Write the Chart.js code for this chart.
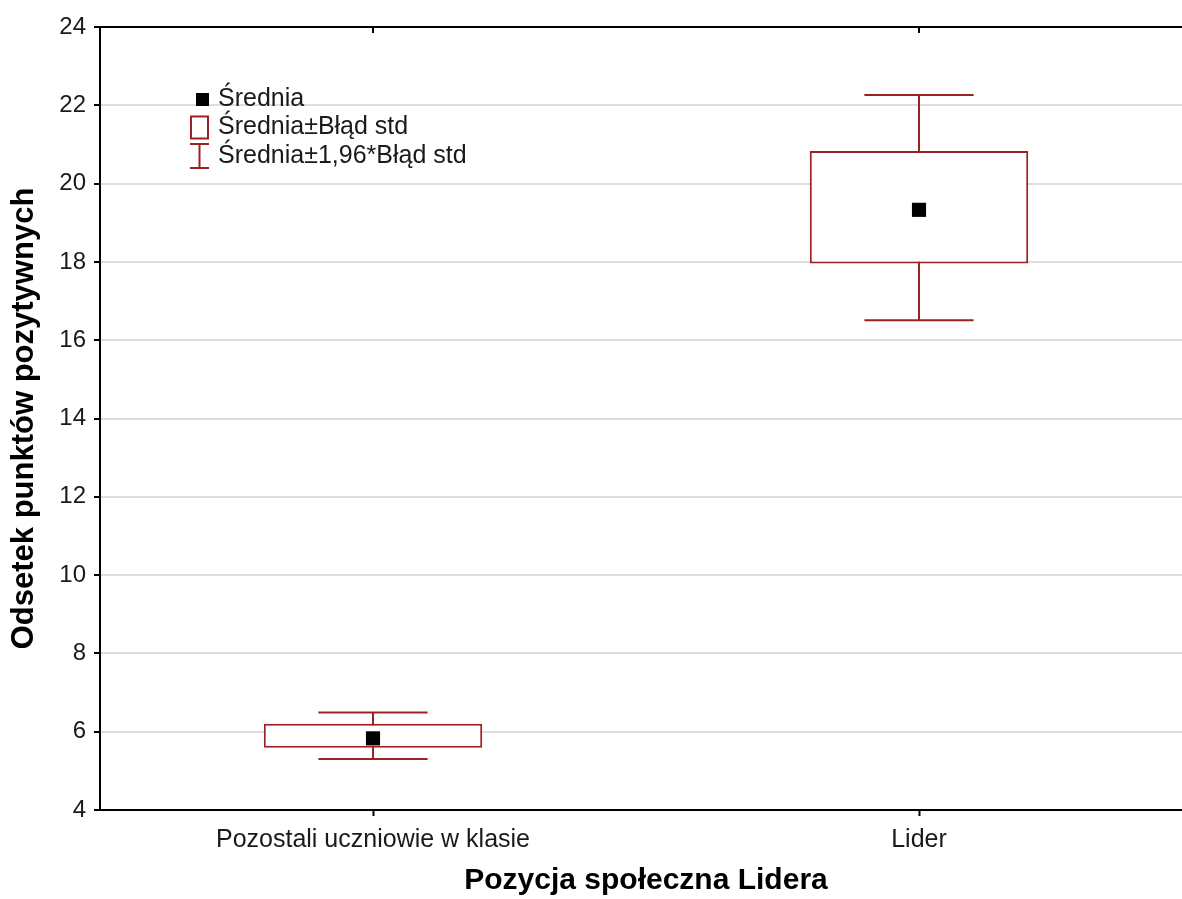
<!DOCTYPE html>
<html>
<head>
<meta charset="utf-8">
<script src="https://cdn.jsdelivr.net/npm/chart.js@4/dist/chart.umd.min.js"></script>
<style>
    html, body { margin: 0; padding: 0; background: #fff; overflow: hidden; }
    #wrap { width: 1182px; height: 899px; overflow: hidden; }
    #chart { display: block; }
</style>
</head>
<body>
<div id="wrap"><canvas id="chart" width="1202" height="899" style="width:1202px;height:899px"></canvas></div>
<script>
// data
const categories = ['Pozostali uczniowie w klasie', 'Lider'];
const means = [5.83, 19.33];
const seLow = [5.59, 17.96];
const seHigh = [6.20, 20.83];
const ciLow = [5.30, 16.51];
const ciHigh = [6.49, 22.26];
const legendLabels = ['Średnia', 'Średnia±Błąd std', 'Średnia±1,96*Błąd std'];
const yMin = 4, yMax = 24, yStep = 2;

const RED = '#9c2222';
const TXT = '#1a1a1a';
const FONT = 'Arial, "Liberation Sans", sans-serif';

// whiskers (mean ± 1.96*SE), drawn under the boxes
const whiskerPlugin = {
    id: 'whiskers',
    beforeDatasetsDraw(chart) {
        const { ctx, scales: { x, y } } = chart;
        const capHalf = (x.getPixelForValue(1) - x.getPixelForValue(0)) * 0.1;
        ctx.save();
        ctx.strokeStyle = RED;
        ctx.lineWidth = 2;
        categories.forEach((c, i) => {
            const px = Math.round(x.getPixelForValue(i));
            const yHi = y.getPixelForValue(ciHigh[i]);
            const yLo = y.getPixelForValue(ciLow[i]);
            ctx.beginPath();
            ctx.moveTo(px, yHi); ctx.lineTo(px, yLo);
            ctx.moveTo(px - capHalf, yHi); ctx.lineTo(px + capHalf, yHi);
            ctx.moveTo(px - capHalf, yLo); ctx.lineTo(px + capHalf, yLo);
            ctx.stroke();
        });
        ctx.restore();
    }
};

// top frame line, inner ticks on top, and the legend box
const framePlugin = {
    id: 'frame',
    afterDraw(chart) {
        const { ctx, chartArea: a, scales: { x } } = chart;
        ctx.save();
        ctx.strokeStyle = '#000';
        ctx.lineWidth = 2;
        ctx.beginPath();
        ctx.moveTo(a.left, a.top); ctx.lineTo(a.right, a.top);
        categories.forEach((c, i) => {
            const px = Math.round(x.getPixelForValue(i));
            ctx.moveTo(px, a.top); ctx.lineTo(px, a.top + 6);
        });
        ctx.stroke();

        // legend
        const lx = a.left + 90, ly = a.top + 72, row = 28.5;
        ctx.fillStyle = '#000';
        ctx.fillRect(lx + 6, ly - 6, 13, 13);
        ctx.strokeStyle = RED;
        ctx.lineWidth = 2;
        ctx.strokeRect(lx + 1, ly + row - 11, 17, 22);
        ctx.beginPath();
        const ey = ly + 2 * row;
        ctx.moveTo(lx + 9.5, ey - 12); ctx.lineTo(lx + 9.5, ey + 12);
        ctx.moveTo(lx, ey - 12); ctx.lineTo(lx + 19, ey - 12);
        ctx.moveTo(lx, ey + 12); ctx.lineTo(lx + 19, ey + 12);
        ctx.stroke();
        ctx.fillStyle = TXT;
        ctx.font = '25px ' + FONT;
        ctx.textBaseline = 'middle';
        legendLabels.forEach((t, i) => ctx.fillText(t, lx + 28, ly + i * row));
        ctx.restore();
    }
};

new Chart(document.getElementById('chart'), {
    type: 'bar',
    data: {
        labels: categories,
        datasets: [
            {
                type: 'line', label: legendLabels[0], data: means, showLine: false,
                pointStyle: 'rect', pointRadius: 10, pointBorderWidth: 0,
                pointBackgroundColor: '#000', order: 0
            },
            {
                type: 'bar', label: legendLabels[1],
                data: categories.map((c, i) => [seLow[i], seHigh[i]]),
                backgroundColor: '#fff', borderColor: RED, borderWidth: 2,
                borderSkipped: false, barPercentage: 0.4, categoryPercentage: 1, order: 1
            }
        ]
    },
    options: {
        responsive: false,
        animation: false,
        events: [],
        layout: { padding: { top: 27, left: 0, right: 0, bottom: 0 } },
        plugins: { legend: { display: false }, tooltip: { enabled: false } },
        scales: {
            x: {
                offset: true,
                afterFit: s => { s.height = 89; },
                grid: { drawOnChartArea: false, offset: false, tickLength: 6, tickColor: '#000', tickWidth: 2 },
                border: { color: '#000', width: 2 },
                ticks: { color: TXT, padding: 9, font: { family: FONT, size: 25 } },
                title: {
                    display: true, text: 'Pozycja społeczna Lidera', color: '#000',
                    font: { family: FONT, size: 30, weight: 'bold' }, padding: { top: 0, bottom: 0 }
                }
            },
            y: {
                min: yMin, max: yMax,
                afterFit: s => { s.width = 100; },
                grid: { color: '#dedede', lineWidth: 2, tickLength: 6, tickColor: '#000', tickWidth: 2 },
                border: { color: '#000', width: 2 },
                ticks: { stepSize: yStep, color: TXT, padding: 8, font: { family: FONT, size: 24 } },
                title: {
                    display: true, text: 'Odsetek punktów pozytywnych', color: '#000',
                    font: { family: FONT, size: 31, weight: 'bold' }, padding: { top: 6, bottom: 0 }
                }
            }
        }
    },
    plugins: [whiskerPlugin, framePlugin]
});
</script>
</body>
</html>
